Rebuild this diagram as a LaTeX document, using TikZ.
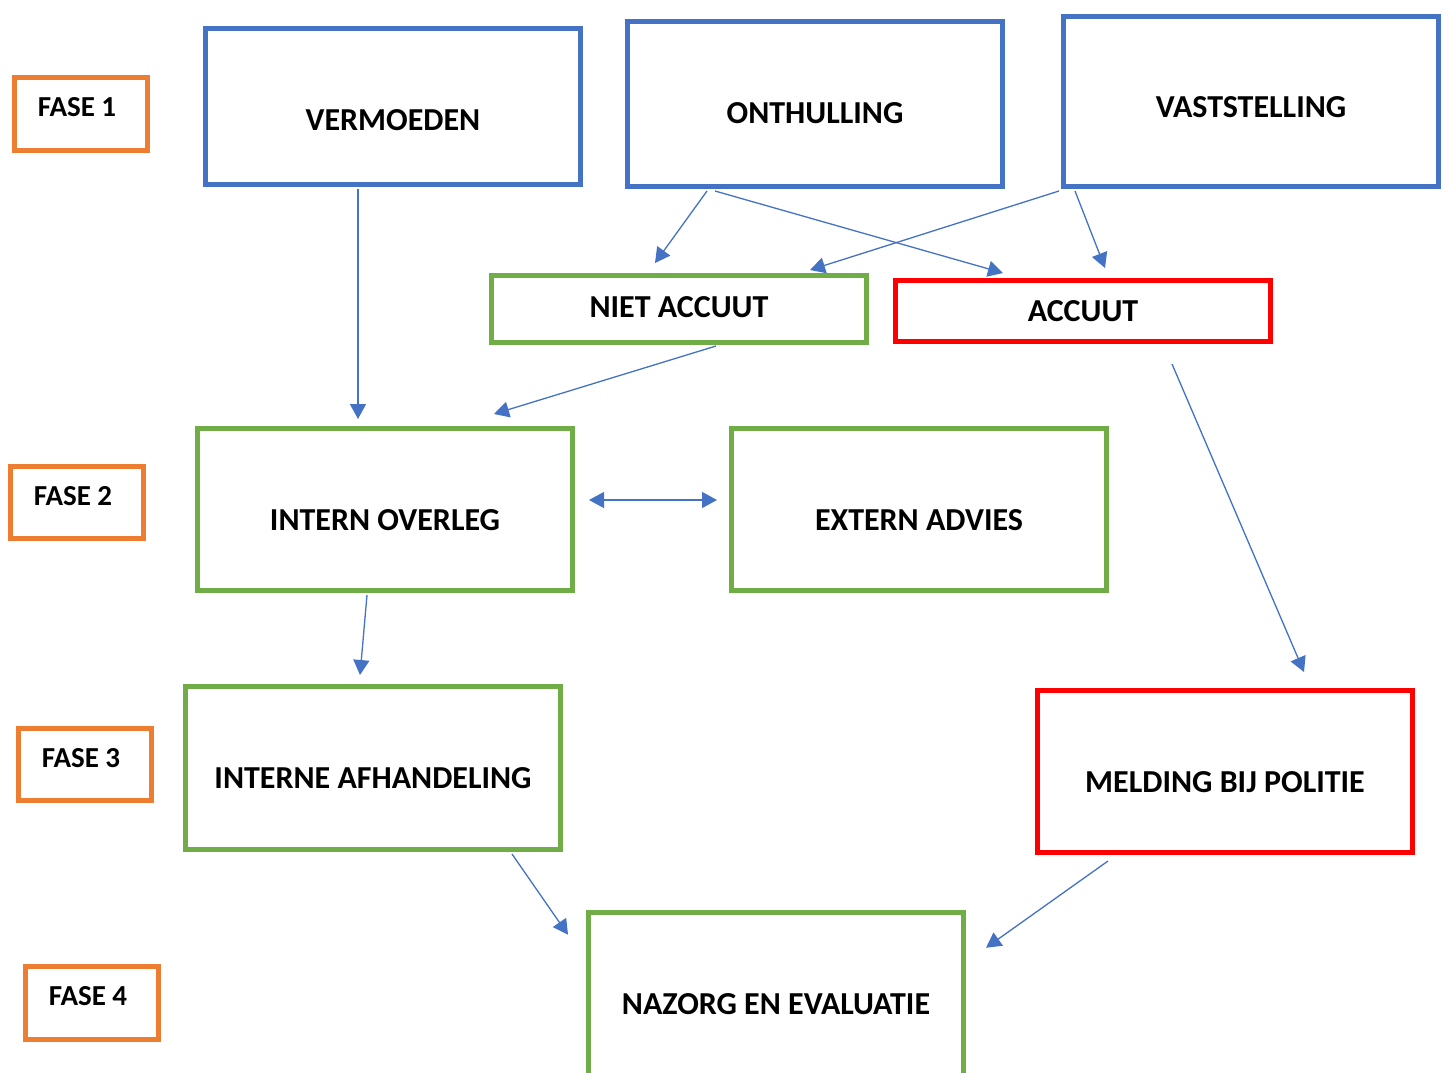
\documentclass[tikz,border=0pt]{standalone}
\usepackage{fontspec}
\setmainfont{Carlito}
\usetikzlibrary{arrows.meta,calc}
\definecolor{oblue}{HTML}{4472C4}
\definecolor{ogreen}{HTML}{70AD47}
\definecolor{ored}{HTML}{FF0000}
\definecolor{oorange}{HTML}{ED7D31}
\tikzset{
  box/.style={draw,line width=5pt,rectangle,inner sep=0pt,minimum width=375pt},
  bluebox/.style={box,draw=oblue},
  greenbox/.style={box,draw=ogreen},
  redbox/.style={box,draw=ored},
  fasebox/.style={draw=oorange,line width=5pt,rectangle,inner sep=0pt,minimum width=133pt,minimum height=72.5pt},
  maintxt/.style={inner sep=0pt,text height=20.3pt,text depth=0pt,font=\fontsize{32}{36}\selectfont\bfseries},
  fasetxt/.style={inner sep=0pt,text height=17.4pt,text depth=0pt,font=\fontsize{29}{32}\selectfont\bfseries},
  arr/.style={draw=oblue,line width=1.3pt,-{Triangle[length=15pt,width=16pt]}},
  darr/.style={draw=oblue,line width=1.3pt,{Triangle[length=15pt,width=16pt]}-{Triangle[length=15pt,width=16pt]}}
}
\begin{document}
\begin{tikzpicture}[x=1pt,y=-1pt]
\useasboundingbox (0,0) rectangle (1448,1072);
\clip (0,0) rectangle (1448,1072);
\fill[white] (0,0) rectangle (1448,1072);
% phase boxes
\node[fasebox] (f1) at (81,114) {};
\node[fasebox] (f2) at (77,502.5) {};
\node[fasebox] (f3) at (85,764.5) {};
\node[fasebox] (f4) at (92,1003) {};
\node[fasetxt] (f1t) at ($(f1)+(-4,-6)$) {FASE 1};
\node[fasetxt] (f2t) at ($(f2)+(-4,-6)$) {FASE 2};
\node[fasetxt] (f3t) at ($(f3)+(-4,-6)$) {FASE 3};
\node[fasetxt] (f4t) at ($(f4)+(-4,-6)$) {FASE 4};
% main boxes
\node[bluebox,minimum height=156pt] (verm) at (393,106.5) {};
\node[bluebox,minimum height=165pt] (onth) at (815,104) {};
\node[bluebox,minimum height=170pt] (vast) at (1251,101.5) {};
\node[greenbox,minimum height=67pt] (niet) at (679,309) {};
\node[redbox,minimum height=61pt] (acc) at (1083,311) {};
\node[greenbox,minimum height=162pt] (io) at (385,509.5) {};
\node[greenbox,minimum height=162pt] (ea) at (919,509.5) {};
\node[greenbox,minimum height=163pt] (ia) at (373,768) {};
\node[redbox,minimum height=162pt] (mp) at (1225,771.5) {};
\node[greenbox,minimum height=175pt] (nz) at (776,999.75) {};
% texts
\node[maintxt] (vermt) at (393,120) {VERMOEDEN};
\node[maintxt] (ontht) at (815,113) {ONTHULLING};
\node[maintxt] (vastt) at (1251,107) {VASTSTELLING};
\node[maintxt] (nieta) at (679,307) {NIET ACCUUT};
\node[maintxt] (acct) at (1083,311) {ACCUUT};
\node[maintxt] (iot) at (385,520) {INTERN OVERLEG};
\node[maintxt] (eat) at (919,520) {EXTERN ADVIES};
\node[maintxt] (iat) at (373,778) {INTERNE AFHANDELING};
\node[maintxt] (mpt) at (1225,782) {MELDING BIJ POLITIE};
\node[maintxt] (nzt) at (776,1004) {NAZORG EN EVALUATIE};
% connectors
\draw[arr] ($(verm.south)+(-35,2)$) -- ($(io.north)+(-27,-7)$);
\draw[arr] ($(onth.south)+(-108,2)$) -- ($(niet.north)+(-24,-10)$);
\draw[arr] ($(onth.south)+(-100,2)$) -- ($(acc.north)+(-80,-5)$);
\draw[arr] ($(vast.south west)+(-2,2)$) -- ($(niet.north)+(131,-3)$);
\draw[arr] ($(vast.south west)+(14,2)$) -- ($(acc.north)+(22,-10)$);
\draw[arr] ($(niet.south)+(37,1)$) -- ($(io.north)+(109,-12)$);
\draw[arr] ($(acc.south)+(89,20)$) -- ($(mp.north)+(79,-16)$);
\draw[darr] ($(io.east)+(14,-9.5)$) -- ($(ea.west)+(-12,-9.5)$);
\draw[arr] ($(io.south)+(-18,2)$) -- ($(ia.north)+(-13,-9)$);
\draw[arr] ($(ia.south)+(139,2)$) -- ($(nz.north)+(-208,25)$);
\draw[arr] ($(mp.south)+(-117,6)$) -- ($(nz.north)+(210,38)$);
\end{tikzpicture}
\end{document}
